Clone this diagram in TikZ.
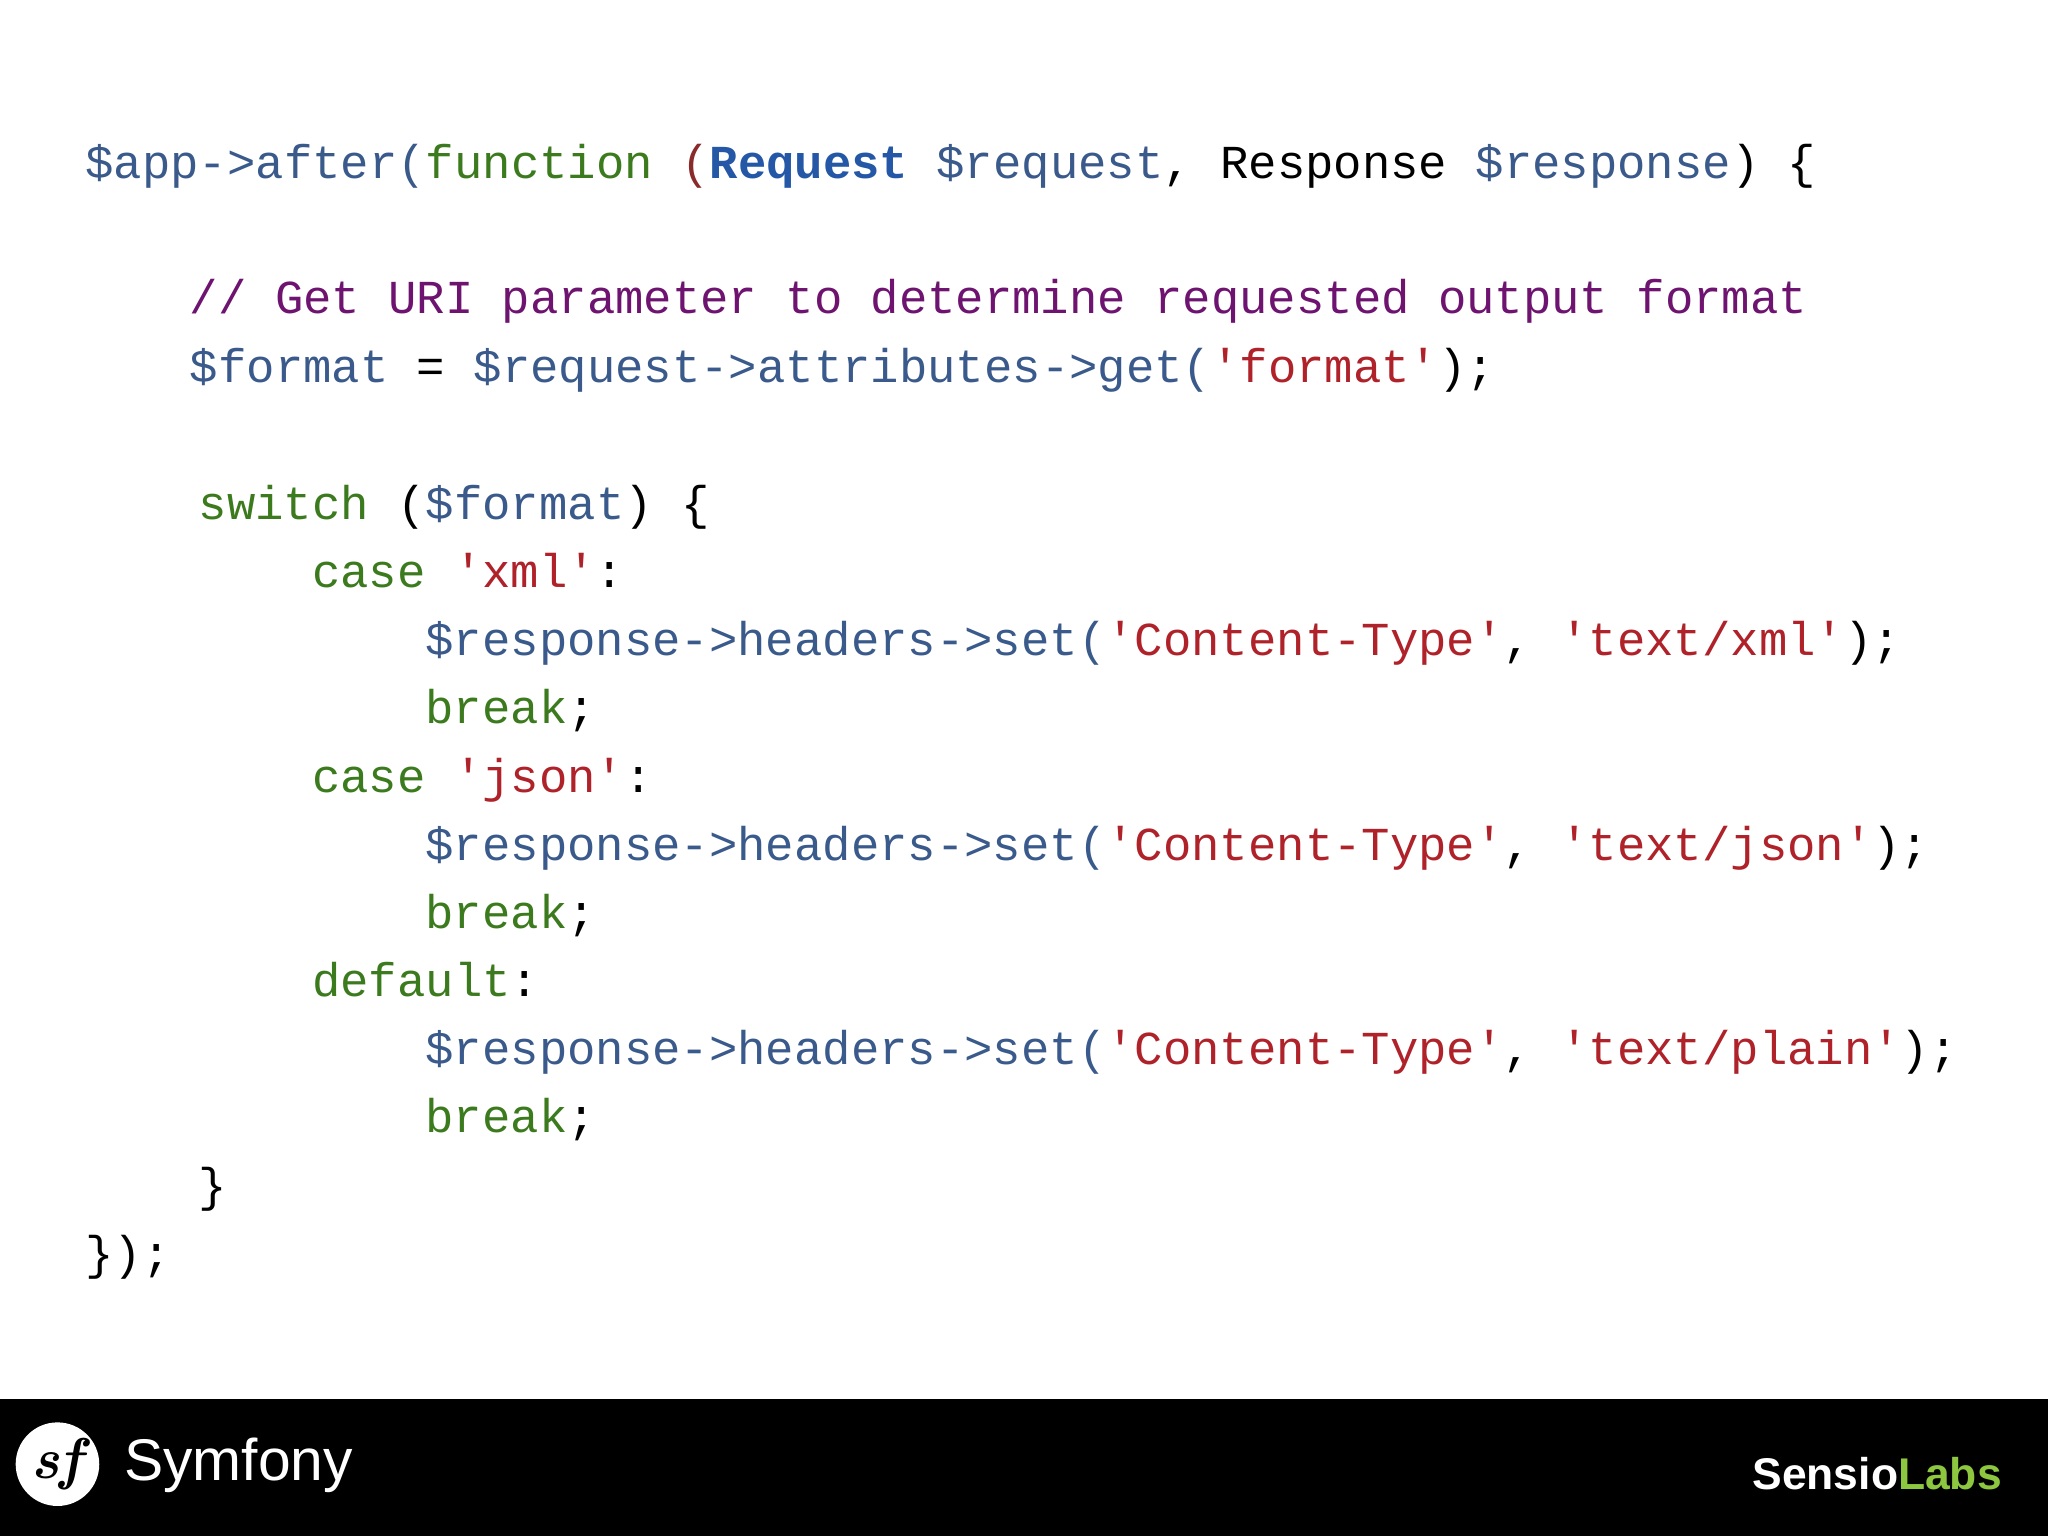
\documentclass[tikz,border=0pt]{standalone}
\usepackage{fontspec}
\newfontfamily\code{Liberation Mono}
\newfontfamily\logo{Liberation Sans}
\definecolor{cv}{HTML}{3A5A8C}
\definecolor{ck}{HTML}{3C7A1E}
\definecolor{cs}{HTML}{B0222A}
\definecolor{cc}{HTML}{6E1470}
\definecolor{cr}{HTML}{2458A6}
\definecolor{cp}{HTML}{8A2A2A}
\definecolor{lg}{HTML}{8DC63F}
\newcommand\V[1]{\textcolor{cv}{#1}}
\newcommand\K[1]{\textcolor{ck}{#1}}
\newcommand\Sg[1]{\textcolor{cs}{#1}}
\tikzset{ln/.style={anchor=base west,inner sep=0pt,font=\code\fontsize{18.1}{20}\selectfont}}
\begin{document}
\begin{tikzpicture}[x=0.5pt,y=-0.5pt]
\useasboundingbox (0,0) rectangle (1568,1176);
\fill[white] (0,0) rectangle (1568,1176);
\def\cw{21.7}
\node[ln] (l1) at (65,137) {\V{\$app->after(}\K{function} \textcolor{cp}{(}\textcolor{cr}{\bfseries Request} \V{\$request}, Response \V{\$response}) \{};
\node[ln] (l2) at (145,240) {\textcolor{cc}{// Get URI parameter to determine requested output format}};
\node[ln] (l3) at (145,293) {\V{\$format} = \V{\$request->attributes->get(}\Sg{'format'});};
\node[ln] (l4) at (65+4*\cw,398) {\K{switch} (\V{\$format}) \{};
\node[ln] (l5) at (65+8*\cw,450) {\K{case} \Sg{'xml'}:};
\node[ln] (l6) at (65+12*\cw,502) {\V{\$response->headers->set(}\Sg{'Content-Type'}, \Sg{'text/xml'});};
\node[ln] (l7) at (65+12*\cw,554) {\K{break};};
\node[ln] (l8) at (65+8*\cw,607) {\K{case} \Sg{'json'}:};
\node[ln] (l9) at (65+12*\cw,659) {\V{\$response->headers->set(}\Sg{'Content-Type'}, \Sg{'text/json'});};
\node[ln] (l10) at (65+12*\cw,711) {\K{break};};
\node[ln] (l11) at (65+8*\cw,763) {\K{default}:};
\node[ln] (l12) at (65+12*\cw,815) {\V{\$response->headers->set(}\Sg{'Content-Type'}, \Sg{'text/plain'});};
\node[ln] (l13) at (65+12*\cw,867) {\K{break};};
\node[ln] (l14) at (65+4*\cw,920) {\}};
\node[ln] (l15) at (65,972) {\});};
\fill[black] (0,1071) rectangle (1568,1176);
\fill[white] (44,1121) circle (32);
\node[font=\fontsize{22}{24}\selectfont\itshape\bfseries] (sf) at (44,1121) {sf};
\node[anchor=west,text=white,font=\logo\fontsize{22.5}{26}\selectfont] (sym) at (88,1122) {Symfony};
\node[anchor=east,font=\logo\bfseries\fontsize{17}{20}\selectfont,inner sep=0pt] (sl) at (1533,1128) {\textcolor{white}{Sensio}\textcolor{lg}{Labs}};
\end{tikzpicture}
\end{document}
